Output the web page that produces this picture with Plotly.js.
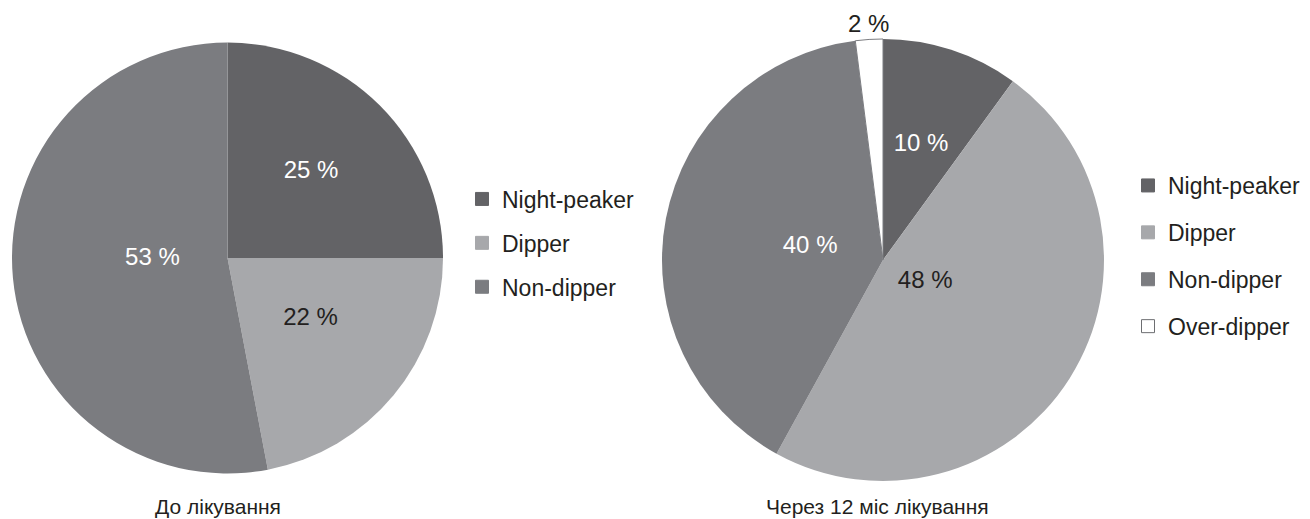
<!DOCTYPE html>
<html>
<head>
<meta charset="utf-8">
<script src="https://cdn.plot.ly/plotly-3.0.1.min.js"></script>
<style>html,body{margin:0;padding:0;background:#fff;}#chart{width:1310px;height:519px;}</style>
</head>
<body>
<div id="chart"></div>
<script>
// ---- data ----
const categoriesBefore = ['Night-peaker', 'Dipper', 'Non-dipper'];
const valuesBefore = [25, 22, 53];
const categoriesAfter = ['Night-peaker', 'Dipper', 'Non-dipper', 'Over-dipper'];
const valuesAfter = [10, 48, 40, 2];
const captionBefore = 'До лікування';
const captionAfter = 'Через 12 міс лікування';

// ---- styles / layout ----
const W = 1310, H = 519;
const FONT = 'Liberation Sans, Arial, Helvetica, sans-serif';
const DARK = '#231f20';
const colorMap = {
  'Night-peaker': '#636366',
  'Dipper': '#a7a8ab',
  'Non-dipper': '#7b7c80',
  'Over-dipper': '#ffffff'
};
const textColorMap = {
  'Night-peaker': '#ffffff',
  'Dipper': DARK,
  'Non-dipper': '#ffffff',
  'Over-dipper': DARK
};
// pie geometry (pixels): centre and radius
const geomBefore = { cx: 227.5, cy: 258, r: 215.5 };
const geomAfter = { cx: 883, cy: 260, r: 221 };
// label placement: radius factor relative to Plotly's default, plus a small pixel nudge
const labelPosBefore = {
  'Night-peaker': { f: 0.97, dx: -3, dy: -2 },
  'Dipper': { f: 0.78, dx: 4, dy: -7 },
  'Non-dipper': { f: 0.70, dx: 0, dy: -9 }
};
const labelPosAfter = {
  'Night-peaker': { f: 0.73, dx: 0, dy: 0 },
  'Dipper': { f: 0.43, dx: 2, dy: -6 },
  'Non-dipper': { f: 0.655, dx: 0, dy: -2 },
  'Over-dipper': { f: 1, dx: 27, dy: -2, outside: true }
};

function domainOf(g, f, dx, dy) {
  const rr = g.r * f, cx = g.cx + (dx || 0), cy = g.cy + (dy || 0);
  return { x: [(cx - rr) / W, (cx + rr) / W], y: [1 - (cy + rr) / H, 1 - (cy - rr) / H] };
}

function slicePie(cats, vals, g) {
  return {
    type: 'pie',
    labels: cats,
    values: vals,
    sort: false,
    direction: 'clockwise',
    rotation: 0,
    domain: domainOf(g, 1),
    showlegend: false,
    marker: {
      colors: cats.map(c => colorMap[c]),
      line: { color: cats.map(c => c === 'Over-dipper' ? '#7b7c80' : 'rgba(0,0,0,0)'),
              width: cats.map(c => c === 'Over-dipper' ? 1 : 0) }
    },
    textinfo: 'none',
    hoverinfo: 'label+value',
    automargin: false
  };
}

// transparent copies of the same pie that carry one label each
function labelPies(cats, vals, g, pos) {
  return cats.filter(c => pos[c] !== undefined).map(c => {
    const p = pos[c];
    return {
      type: 'pie',
      labels: cats,
      values: vals,
      sort: false,
      direction: 'clockwise',
      rotation: 0,
      domain: domainOf(g, p.f, p.dx, p.dy),
      showlegend: false,
      marker: { colors: cats.map(() => 'rgba(0,0,0,0)'), line: { width: 0 } },
      texttemplate: '%{value} %',
      textposition: cats.map(k => k === c ? (p.outside ? 'outside' : 'inside') : 'none'),
      insidetextorientation: 'horizontal',
      textfont: { family: FONT, size: 24, color: cats.map(k => textColorMap[k]) },
      outsidetextfont: { family: FONT, size: 24, color: DARK },
      hoverinfo: 'skip',
      automargin: false
    };
  });
}

function legendTraces(cats, legendId, prefix) {
  return cats.map((c, i) => ({
    type: 'scatter',
    x: [null], y: [null],
    mode: 'markers',
    name: c,
    legend: legendId,
    legendgroup: prefix + i,
    hoverinfo: 'skip',
    marker: {
      symbol: 'square', size: 13, color: colorMap[c],
      line: { color: c === 'Over-dipper' ? '#6d6e71' : colorMap[c], width: 1 }
    }
  }));
}

const data = [
  slicePie(categoriesBefore, valuesBefore, geomBefore),
  slicePie(categoriesAfter, valuesAfter, geomAfter)
].concat(labelPies(categoriesBefore, valuesBefore, geomBefore, labelPosBefore))
 .concat(labelPies(categoriesAfter, valuesAfter, geomAfter, labelPosAfter))
 .concat(legendTraces(categoriesBefore, 'legend', 'b'))
 .concat(legendTraces(categoriesAfter, 'legend2', 'a'));

const legendCommon = {
  font: { family: FONT, size: 23, color: DARK },
  bgcolor: 'rgba(0,0,0,0)',
  borderwidth: 0,
  traceorder: 'grouped',
  xanchor: 'left',
  yanchor: 'middle',
  itemclick: false,
  itemdoubleclick: false
};

const layout = {
  width: W, height: H,
  margin: { l: 0, r: 0, t: 0, b: 0 },
  paper_bgcolor: '#ffffff',
  plot_bgcolor: 'rgba(0,0,0,0)',
  font: { family: FONT, color: DARK },
  xaxis: { visible: false, domain: [0, 0.001], fixedrange: true },
  yaxis: { visible: false, domain: [0, 0.001], fixedrange: true },
  legend: Object.assign({}, legendCommon, { x: 462 / W, y: 1 - 243 / H, tracegroupgap: 11 }),
  legend2: Object.assign({}, legendCommon, { x: 1128 / W, y: 1 - 256 / H, tracegroupgap: 14 }),
  annotations: [
    { text: captionBefore, xref: 'paper', yref: 'paper', x: 217.5 / W, y: 0,
      xanchor: 'center', yanchor: 'bottom', showarrow: false, borderpad: 0,
      font: { family: FONT, size: 21, color: DARK } },
    { text: captionAfter, xref: 'paper', yref: 'paper', x: 877.5 / W, y: 0,
      xanchor: 'center', yanchor: 'bottom', showarrow: false, borderpad: 0,
      font: { family: FONT, size: 21, color: DARK } }
  ],
  showlegend: true
};

Plotly.newPlot('chart', data, layout, { displayModeBar: false });
</script>
</body>
</html>
